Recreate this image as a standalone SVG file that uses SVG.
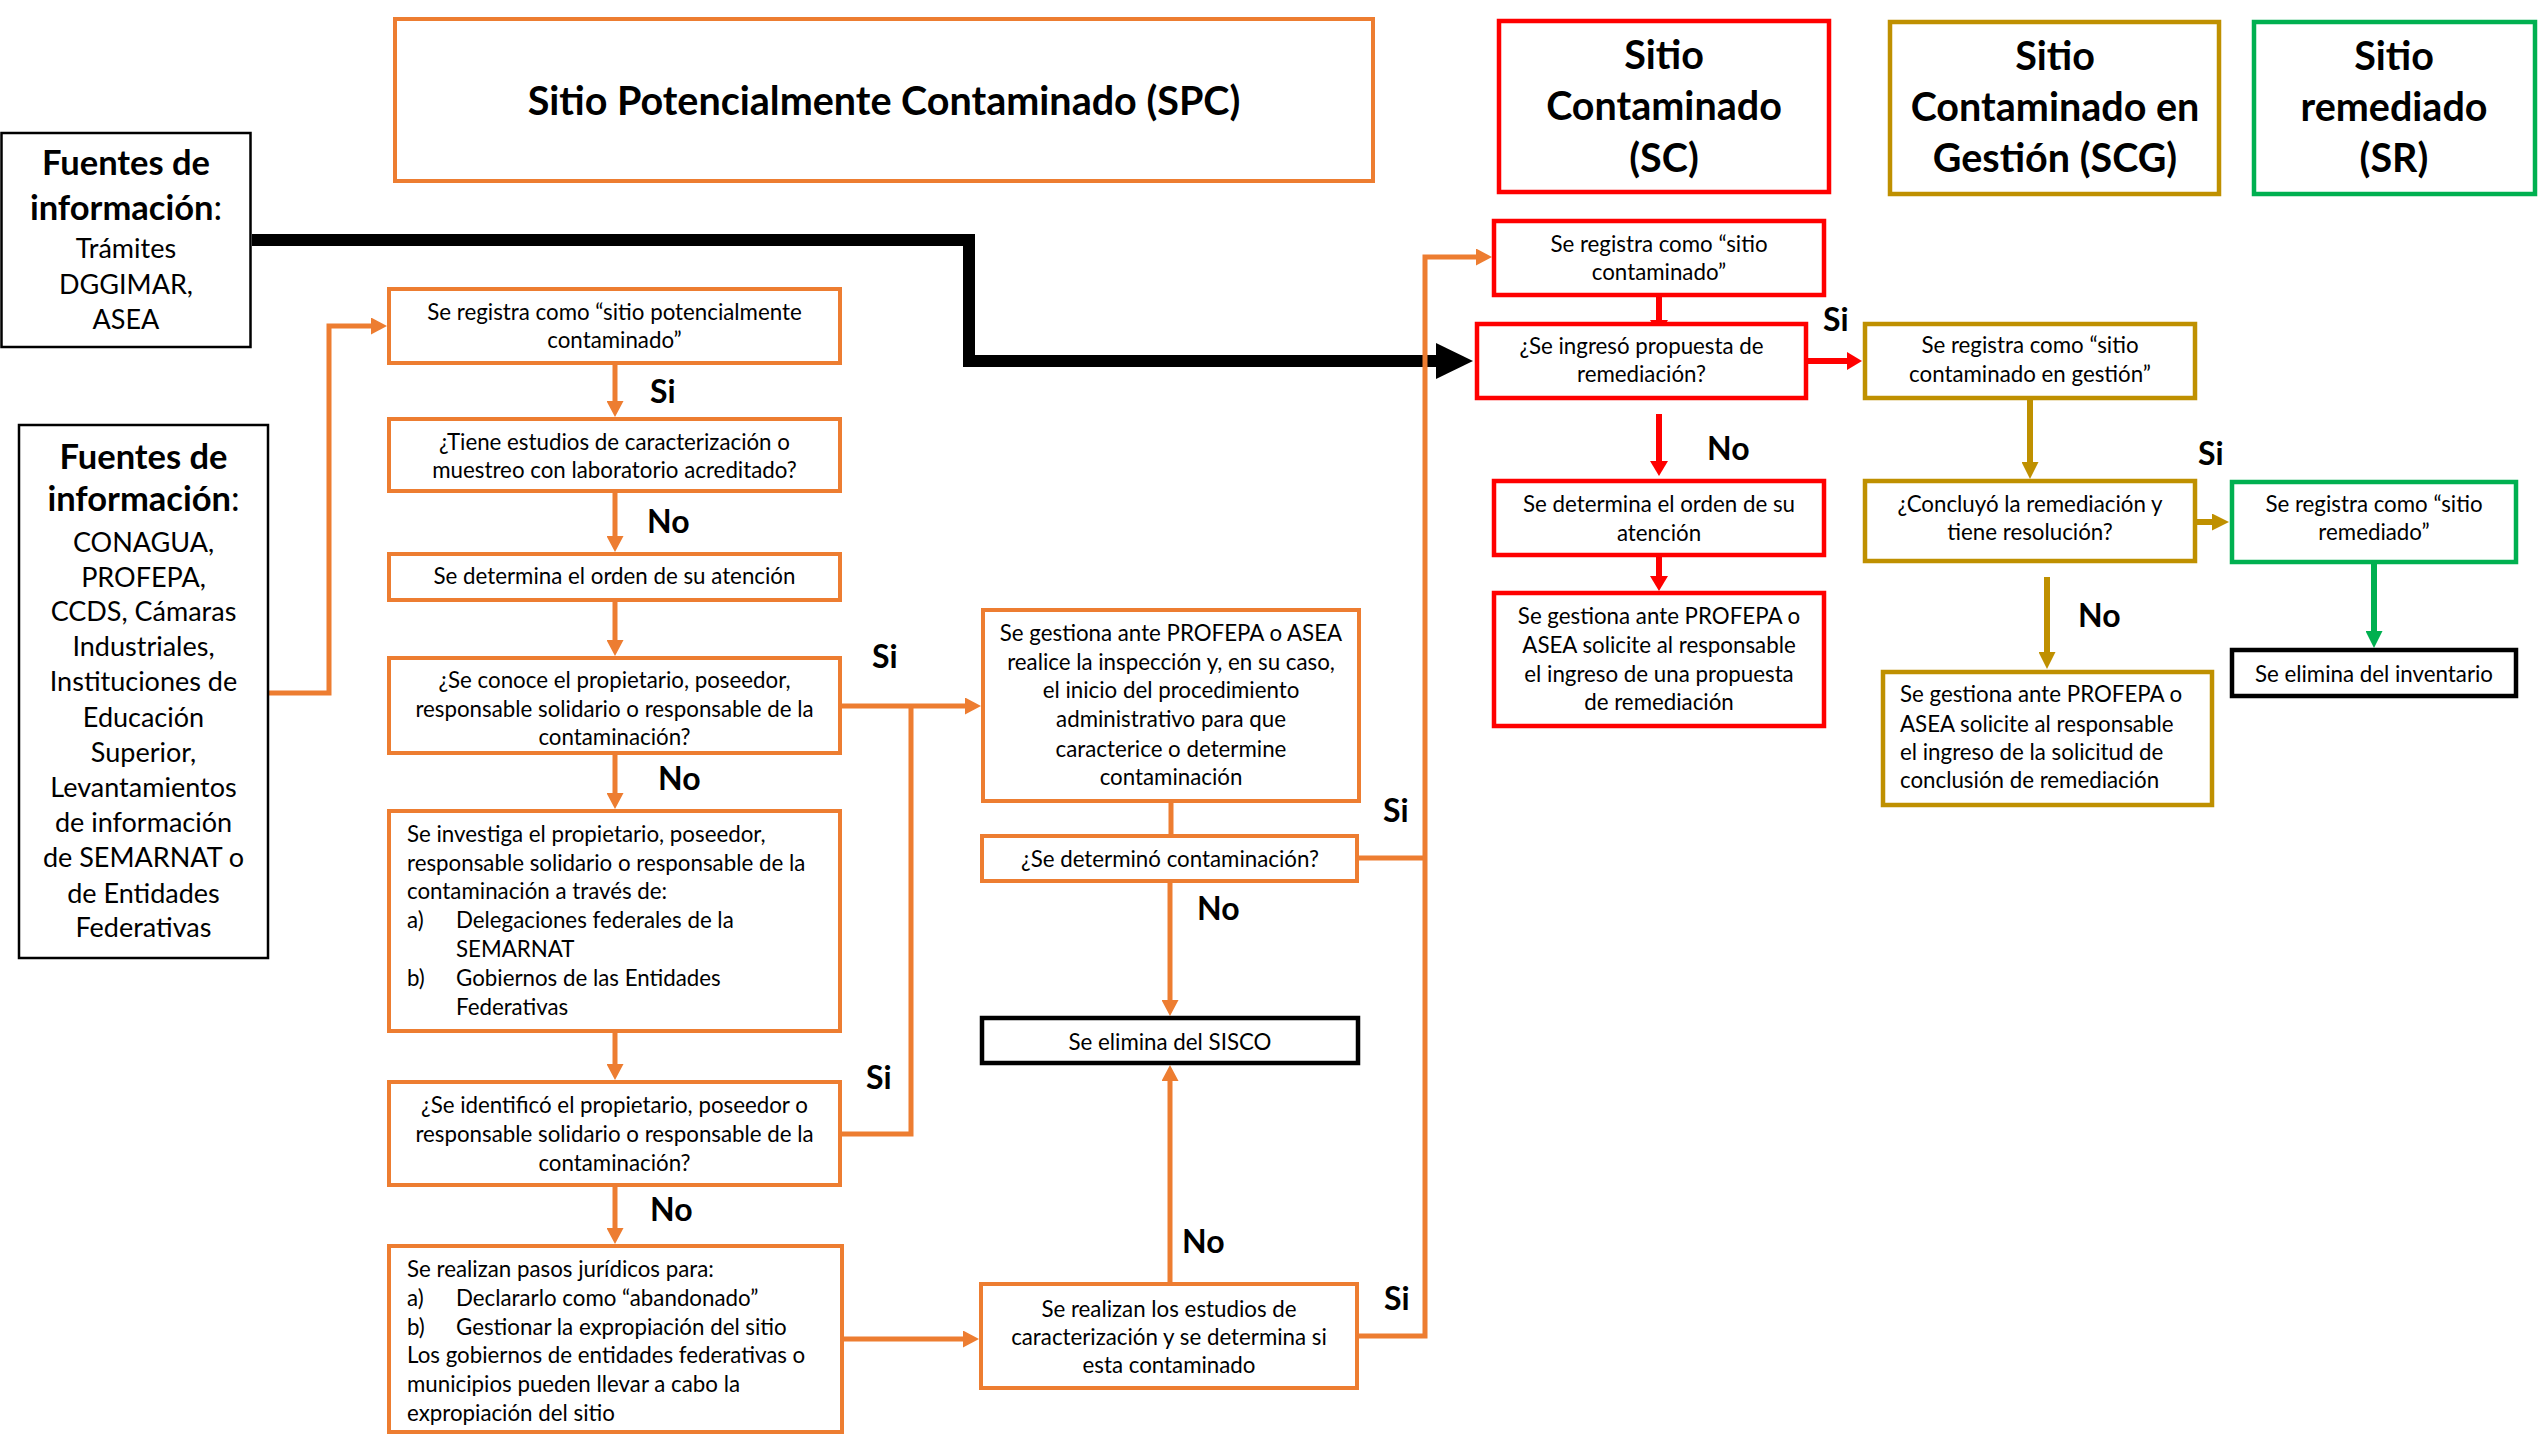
<svg xmlns="http://www.w3.org/2000/svg" width="2539" height="1440" viewBox="0 0 2539 1440">
<defs>
<style>
text{font-family:Lato,"Liberation Sans",sans-serif;fill:#000}
.t{font-size:22.3px}
.c{text-anchor:middle}
.h{font-size:39.5px;font-weight:bold;text-anchor:middle}
.lb{font-size:32px;font-weight:bold}
.fb{font-size:34.5px;font-weight:bold;text-anchor:middle}
.fr{font-size:27px;text-anchor:middle}
.nb{font-weight:normal}
rect{fill:#fff}
.bo{stroke:#ED7D31;stroke-width:4}
.br{stroke:#FF0000;stroke-width:4.5}
.bg{stroke:#BF9000;stroke-width:4.5}
.bgr{stroke:#00B050;stroke-width:4.5}
.bk{stroke:#000;stroke-width:4.5}
.bk2{stroke:#000;stroke-width:2.5}
.co{fill:none;stroke:#ED7D31;stroke-width:5}
.cr{fill:none;stroke:#FF0000;stroke-width:6}
.cg{fill:none;stroke:#BF9000;stroke-width:6}
.cgr{fill:none;stroke:#00B050;stroke-width:6}
.cb{fill:none;stroke:#000;stroke-width:12}
</style>
<marker id="ao" markerUnits="userSpaceOnUse" viewBox="0 0 16 17" refX="0" refY="8.5" markerWidth="16" markerHeight="17" orient="auto"><path d="M0,0 L16,8.5 L0,17 z" fill="#ED7D31"/></marker>
<marker id="ar" markerUnits="userSpaceOnUse" viewBox="0 0 15 18" refX="0" refY="9" markerWidth="15" markerHeight="18" orient="auto"><path d="M0,0 L15,9 L0,18 z" fill="#FF0000"/></marker>
<marker id="ag" markerUnits="userSpaceOnUse" viewBox="0 0 17 17" refX="0" refY="8.5" markerWidth="17" markerHeight="17" orient="auto"><path d="M0,0 L17,8.5 L0,17 z" fill="#BF9000"/></marker>
<marker id="agr" markerUnits="userSpaceOnUse" viewBox="0 0 17 17" refX="0" refY="8.5" markerWidth="17" markerHeight="17" orient="auto"><path d="M0,0 L17,8.5 L0,17 z" fill="#00B050"/></marker>
<marker id="ab" markerUnits="userSpaceOnUse" viewBox="0 0 37 36" refX="0" refY="18" markerWidth="37" markerHeight="36" orient="auto"><path d="M0,0 L37,18 L0,36 z" fill="#000"/></marker>
</defs>
<rect x="0" y="0" width="2539" height="1440" fill="#fff"/>

<g id="connectors">
<path class="cb" d="M252,240 H969 V361 H1436" marker-end="url(#ab)"/>
<path class="co" d="M269,693 H329 V326 H371" marker-end="url(#ao)"/>
<path class="co" d="M615,364 V401" marker-end="url(#ao)"/>
<path class="co" d="M615,493 V536" marker-end="url(#ao)"/>
<path class="co" d="M615,602 V640" marker-end="url(#ao)"/>
<path class="co" d="M615,755 V793" marker-end="url(#ao)"/>
<path class="co" d="M615,1033 V1064" marker-end="url(#ao)"/>
<path class="co" d="M615,1187 V1228" marker-end="url(#ao)"/>
<path class="co" d="M842,706 H965" marker-end="url(#ao)"/>
<path class="co" d="M842,1134 H911 V706"/>
<path class="co" d="M844,1339 H963" marker-end="url(#ao)"/>
<path class="co" d="M1171,803 V834"/>
<path class="co" d="M1170,883 V1000" marker-end="url(#ao)"/>
<path class="co" d="M1170,1282 V1081" marker-end="url(#ao)"/>
<path class="co" d="M1359,858 H1425"/>
<path class="co" d="M1359,1336 H1425 V257 H1476" marker-end="url(#ao)"/>
<path class="cr" d="M1659,297 V320" marker-end="url(#ar)"/>
<path class="cr" d="M1808,361 H1847" marker-end="url(#ar)"/>
<path class="cr" d="M1659,414 V461" marker-end="url(#ar)"/>
<path class="cr" d="M1659,557 V576" marker-end="url(#ar)"/>
<path class="cg" d="M2030,400 V462" marker-end="url(#ag)"/>
<path class="cg" d="M2197,522 H2212" marker-end="url(#ag)"/>
<path class="cg" d="M2047,577 V652" marker-end="url(#ag)"/>
<path class="cgr" d="M2374,564 V631" marker-end="url(#agr)"/>
</g>

<g id="labels">
<text class="lb" x="650" y="403">Si</text>
<text class="lb" x="647" y="533">No</text>
<text class="lb" x="872" y="668">Si</text>
<text class="lb" x="658" y="790">No</text>
<text class="lb" x="866" y="1089">Si</text>
<text class="lb" x="650" y="1221">No</text>
<text class="lb" x="1383" y="822">Si</text>
<text class="lb" x="1197" y="920">No</text>
<text class="lb" x="1182" y="1253">No</text>
<text class="lb" x="1384" y="1310">Si</text>
<text class="lb" x="1823" y="331">Si</text>
<text class="lb" x="1707" y="460">No</text>
<text class="lb" x="2198" y="465">Si</text>
<text class="lb" x="2078" y="627">No</text>
</g>

<g id="hdr-spc">
<rect class="bo" x="395" y="19" width="978" height="162"/>
<text class="h" x="884" y="115">Sitio Potencialmente Contaminado (SPC)</text>
</g>
<g id="hdr-sc">
<rect class="br" x="1499" y="21" width="330" height="171"/>
<text class="h" x="1664" y="69">Sitio</text>
<text class="h" x="1664" y="120">Contaminado</text>
<text class="h" x="1664" y="172">(SC)</text>
</g>
<g id="hdr-scg">
<rect class="bg" x="1890" y="22" width="329" height="172"/>
<text class="h" x="2055" y="70">Sitio</text>
<text class="h" x="2055" y="121">Contaminado en</text>
<text class="h" x="2055" y="172">Gestión (SCG)</text>
</g>
<g id="hdr-sr">
<rect class="bgr" x="2254" y="22" width="281" height="172"/>
<text class="h" x="2394" y="70">Sitio</text>
<text class="h" x="2394" y="121">remediado</text>
<text class="h" x="2394" y="172">(SR)</text>
</g>

<g id="fuentes1">
<rect class="bk2" x="1.5" y="133" width="249" height="214"/>
<text class="fb" x="126" y="175">Fuentes de</text>
<text class="fb" x="126" y="220">información<tspan class="nb">:</tspan></text>
<text class="fr" x="126" y="258">Trámites</text>
<text class="fr" x="126" y="294">DGGIMAR,</text>
<text class="fr" x="126" y="329">ASEA</text>
</g>

<g id="fuentes2">
<rect class="bk2" x="19" y="425" width="249" height="533"/>
<text class="fb" x="143.5" y="469">Fuentes de</text>
<text class="fb" x="143.5" y="511">información<tspan class="nb">:</tspan></text>
<text class="fr" x="143.5" y="552">CONAGUA,</text>
<text class="fr" x="143.5" y="587">PROFEPA,</text>
<text class="fr" x="143.5" y="621">CCDS, Cámaras</text>
<text class="fr" x="143.5" y="656">Industriales,</text>
<text class="fr" x="143.5" y="691">Instituciones de</text>
<text class="fr" x="143.5" y="727">Educación</text>
<text class="fr" x="143.5" y="762">Superior,</text>
<text class="fr" x="143.5" y="797">Levantamientos</text>
<text class="fr" x="143.5" y="832">de información</text>
<text class="fr" x="143.5" y="867">de SEMARNAT o</text>
<text class="fr" x="143.5" y="903">de Entidades</text>
<text class="fr" x="143.5" y="937">Federativas</text>
</g>

<g id="n1">
<rect class="bo" x="389" y="289" width="451" height="74"/>
<text class="t c" x="614.5" y="320">Se registra como “sitio potencialmente</text>
<text class="t c" x="614.5" y="348">contaminado”</text>
</g>
<g id="n2">
<rect class="bo" x="389" y="419" width="451" height="72"/>
<text class="t c" x="614.5" y="450">¿Tiene estudios de caracterización o</text>
<text class="t c" x="614.5" y="478">muestreo con laboratorio acreditado?</text>
</g>
<g id="n3">
<rect class="bo" x="389" y="554" width="451" height="46"/>
<text class="t c" x="614.5" y="584">Se determina el orden de su atención</text>
</g>
<g id="n4">
<rect class="bo" x="389" y="658" width="451" height="95"/>
<text class="t c" x="614.5" y="688">¿Se conoce el propietario, poseedor,</text>
<text class="t c" x="614.5" y="717">responsable solidario o responsable de la</text>
<text class="t c" x="614.5" y="745">contaminación?</text>
</g>
<g id="n5">
<rect class="bo" x="389" y="811" width="451" height="220"/>
<text class="t" x="407" y="842">Se investiga el propietario, poseedor,</text>
<text class="t" x="407" y="871">responsable solidario o responsable de la</text>
<text class="t" x="407" y="899">contaminación a través de:</text>
<text class="t" x="407" y="928">a)</text>
<text class="t" x="456" y="928">Delegaciones federales de la</text>
<text class="t" x="456" y="957">SEMARNAT</text>
<text class="t" x="407" y="986">b)</text>
<text class="t" x="456" y="986">Gobiernos de las Entidades</text>
<text class="t" x="456" y="1015">Federativas</text>
</g>
<g id="n6">
<rect class="bo" x="389" y="1082" width="451" height="103"/>
<text class="t c" x="614.5" y="1113">¿Se identificó el propietario, poseedor o</text>
<text class="t c" x="614.5" y="1142">responsable solidario o responsable de la</text>
<text class="t c" x="614.5" y="1171">contaminación?</text>
</g>
<g id="n7">
<rect class="bo" x="389" y="1246" width="453" height="186"/>
<text class="t" x="407" y="1277">Se realizan pasos jurídicos para:</text>
<text class="t" x="407" y="1306">a)</text>
<text class="t" x="456" y="1306">Declararlo como “abandonado”</text>
<text class="t" x="407" y="1335">b)</text>
<text class="t" x="456" y="1335">Gestionar la expropiación del sitio</text>
<text class="t" x="407" y="1363">Los gobiernos de entidades federativas o</text>
<text class="t" x="407" y="1392">municipios pueden llevar a cabo la</text>
<text class="t" x="407" y="1421">expropiación del sitio</text>
</g>
<g id="n8">
<rect class="bo" x="983" y="610" width="376" height="191"/>
<text class="t c" x="1171" y="641">Se gestiona ante PROFEPA o ASEA</text>
<text class="t c" x="1171" y="670">realice la inspección y, en su caso,</text>
<text class="t c" x="1171" y="698">el inicio del procedimiento</text>
<text class="t c" x="1171" y="727">administrativo para que</text>
<text class="t c" x="1171" y="757">caracterice o determine</text>
<text class="t c" x="1171" y="785">contaminación</text>
</g>
<g id="n9">
<rect class="bo" x="982" y="836" width="375" height="45"/>
<text class="t c" x="1170" y="867">¿Se determinó contaminación?</text>
</g>
<g id="n10">
<rect class="bk" x="982" y="1018" width="376" height="45"/>
<text class="t c" x="1170" y="1050">Se elimina del SISCO</text>
</g>
<g id="n11">
<rect class="bo" x="981" y="1284" width="376" height="104"/>
<text class="t c" x="1169" y="1317">Se realizan los estudios de</text>
<text class="t c" x="1169" y="1345">caracterización y se determina si</text>
<text class="t c" x="1169" y="1373">esta contaminado</text>
</g>
<g id="n12">
<rect class="br" x="1494" y="221" width="330" height="74"/>
<text class="t c" x="1659" y="252">Se registra como “sitio</text>
<text class="t c" x="1659" y="280">contaminado”</text>
</g>
<g id="n13">
<rect class="br" x="1477" y="324" width="329" height="74"/>
<text class="t c" x="1641.5" y="354">¿Se ingresó propuesta de</text>
<text class="t c" x="1641.5" y="382">remediación?</text>
</g>
<g id="n14">
<rect class="br" x="1494" y="481" width="330" height="74"/>
<text class="t c" x="1659" y="512">Se determina el orden de su</text>
<text class="t c" x="1659" y="541">atención</text>
</g>
<g id="n15">
<rect class="br" x="1494" y="593" width="330" height="133"/>
<text class="t c" x="1659" y="624">Se gestiona ante PROFEPA o</text>
<text class="t c" x="1659" y="653">ASEA solicite al responsable</text>
<text class="t c" x="1659" y="682">el ingreso de una propuesta</text>
<text class="t c" x="1659" y="710">de remediación</text>
</g>
<g id="n16">
<rect class="bg" x="1865" y="324" width="330" height="74"/>
<text class="t c" x="2030" y="353">Se registra como “sitio</text>
<text class="t c" x="2030" y="382">contaminado en gestión”</text>
</g>
<g id="n17">
<rect class="bg" x="1865" y="481" width="330" height="80"/>
<text class="t c" x="2030" y="512">¿Concluyó la remediación y</text>
<text class="t c" x="2030" y="540">tiene resolución?</text>
</g>
<g id="n18">
<rect class="bg" x="1883" y="672" width="329" height="133"/>
<text class="t" x="1900" y="702">Se gestiona ante PROFEPA o</text>
<text class="t" x="1900" y="732">ASEA solicite al responsable</text>
<text class="t" x="1900" y="760">el ingreso de la solicitud de</text>
<text class="t" x="1900" y="788">conclusión de remediación</text>
</g>
<g id="n19">
<rect class="bgr" x="2232" y="482" width="284" height="80"/>
<text class="t c" x="2374" y="512">Se registra como “sitio</text>
<text class="t c" x="2374" y="540">remediado”</text>
</g>
<g id="n20">
<rect class="bk" x="2232" y="650" width="284" height="46"/>
<text class="t c" x="2374" y="682">Se elimina del inventario</text>
</g>
</svg>
